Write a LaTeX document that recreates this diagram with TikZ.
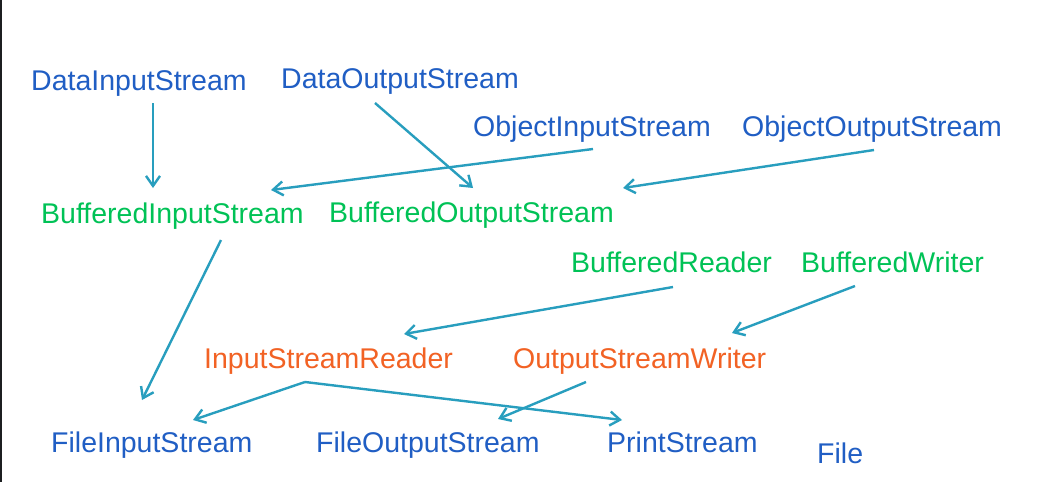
\documentclass[tikz,border=0pt]{standalone}
\usepackage{fontspec}
\setmainfont{Liberation Sans}
\usetikzlibrary{arrows.meta}
\definecolor{jblue}{RGB}{32,94,196}
\definecolor{jgreen}{RGB}{0,194,86}
\definecolor{jorange}{RGB}{242,98,36}
\definecolor{jteal}{RGB}{40,158,190}
\definecolor{jedge}{RGB}{28,30,32}
\tikzset{
  lbl/.style={anchor=base west, inner sep=0pt, font=\fontsize{28.5}{34}\selectfont},
  bluelbl/.style={lbl, text=jblue},
  greenlbl/.style={lbl, text=jgreen},
  orangelbl/.style={lbl, text=jorange},
  arr/.style={draw=jteal, line width=2.4pt, -{Straight Barb[length=10pt,width=14pt]}}
}
\begin{document}
\begin{tikzpicture}[x=1pt,y=-1pt]
\useasboundingbox (0,0) rectangle (1051,482);
\fill[white] (0,0) rectangle (1051,482);
\fill[jedge] (0,0) rectangle (1.6,482);
% nodes
\node[bluelbl] (dis) at (31,90) {DataInputStream};
\node[bluelbl] (dos) at (281,88) {DataOutputStream};
\node[bluelbl] (ois) at (473,136) {ObjectInputStream};
\node[bluelbl] (oos) at (742,136) {ObjectOutputStream};
\node[greenlbl] (bis) at (41,223) {BufferedInputStream};
\node[greenlbl] (bos) at (329,222) {BufferedOutputStream};
\node[greenlbl] (br) at (571,272) {BufferedReader};
\node[greenlbl] (bw) at (801,272) {BufferedWriter};
\node[orangelbl] (isr) at (204,368) {InputStreamReader};
\node[orangelbl] (osw) at (513,368) {OutputStreamWriter};
\node[bluelbl] (fis) at (51,452) {FileInputStream};
\node[bluelbl] (fos) at (316,452) {FileOutputStream};
\node[bluelbl] (ps) at (607,452) {PrintStream};
\node[bluelbl] (file) at (817,463) {File};
% connectors
\draw[arr] ([shift={(122,13)}]dis.base west) -- ([shift={(112,-35)}]bis.base west);
\draw[arr] ([shift={(94,15)}]dos.base west) -- ([shift={(144,-34)}]bos.base west);
\draw[arr] ([shift={(120,13)}]ois.base west) -- ([shift={(230,-33)}]bis.base west);
\draw[arr] ([shift={(132,14)}]oos.base west) -- ([shift={(294,-34)}]bos.base west);
\draw[arr] ([shift={(180,17)}]bis.base west) -- ([shift={(91,-52)}]fis.base west);
\draw[arr] ([shift={(102,15)}]br.base west) -- ([shift={(200,-34)}]isr.base west);
\draw[arr] ([shift={(54,14)}]bw.base west) -- ([shift={(219,-35)}]osw.base west);
\draw[arr] ([shift={(101,14)}]isr.base west) -- ([shift={(142,-32)}]fis.base west);
\draw[arr] ([shift={(101,14)}]isr.base west) -- ([shift={(15,-32)}]ps.base west);
\draw[arr] ([shift={(73,14)}]osw.base west) -- ([shift={(182,-33)}]fos.base west);
\end{tikzpicture}
\end{document}
